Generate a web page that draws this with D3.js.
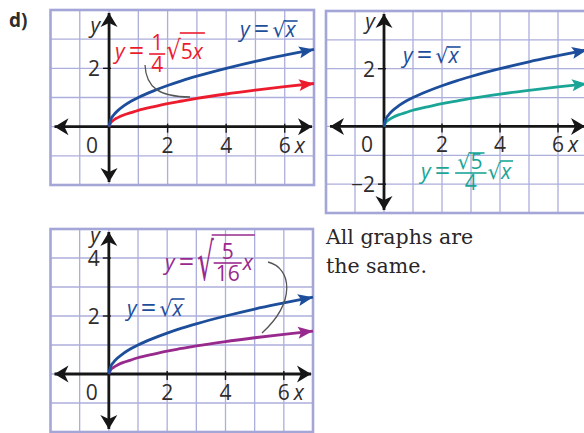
<!DOCTYPE html>
<html><head><meta charset="utf-8">
<script src="https://cdn.jsdelivr.net/npm/d3@7"></script>
<style>body{margin:0;background:#fff}svg{display:block}</style>
</head><body>
<script>
// ---- data ----
const xs      = [0, 0.05, 0.15, 0.3, 0.5, 0.75, 1, 1.5, 2, 2.5, 3, 4, 5, 6, 7];
const sqrtY   = [0, 0.22, 0.39, 0.55, 0.71, 0.87, 1, 1.22, 1.41, 1.58, 1.73, 2, 2.24, 2.45, 2.65];
const scaledY = [0, 0.12, 0.22, 0.31, 0.40, 0.48, 0.56, 0.68, 0.79, 0.88, 0.97, 1.12, 1.25, 1.37, 1.48];
const xTicks = [2, 4, 6];
const yTicks1 = [2], yTicks2 = [2, -2], yTicks3 = [2, 4];
const noteLines = ["All graphs are", "the same."];

const W = 584, H = 433;
const FONT = "'Open Sans', sans-serif";
const RFONT = "'DejaVu Sans', sans-serif";
const GRID = "#acaedb", INK = "#2f2d2c";
const C = {blue: "#1d4e9b", red: "#ec1c2e", teal: "#1aa597", purple: "#982a8d"};

const svg = d3.select("body").append("svg").attr("width", W).attr("height", H);
const defs = svg.append("defs");
function marker(id, color, len, half, notch) {
  defs.append("marker").attr("id", id).attr("markerUnits", "userSpaceOnUse")
    .attr("viewBox", `${-len-2} ${-half-2} ${len+4} ${2*half+4}`)
    .attr("markerWidth", len + 4).attr("markerHeight", 2*half + 4)
    .attr("refX", 0).attr("refY", 0).attr("orient", "auto-start-reverse")
    .append("path").attr("d", `M0,0 L${-len},${-half} L${-len+notch},0 L${-len},${half} Z`).attr("fill", color);
}
marker("ax", "#161616", 14, 8.5, 4);
Object.entries(C).forEach(([k, v]) => marker("a-" + k, v, 15, 6, 3));

svg.append("text").attr("x", 9).attr("y", 27).attr("font-family", FONT).attr("font-weight", 700)
  .attr("font-size", 19).attr("fill", INK).text("d)");

// ---- equation layout helper ----
function layout(g, x, y, items, o) {
  let cx = x;
  for (const it of items) {
    if (it.gap !== undefined) { cx += it.gap; continue; }
    if (it.t !== undefined) {
      const t = g.append("text").attr("x", cx).attr("y", y + (it.dy || 0)).attr("font-family", FONT)
        .attr("font-size", it.size || o.size).attr("fill", o.color)
        .attr("font-style", it.i ? "italic" : null).text(it.t);
      cx += t.node().getComputedTextLength();
    } else if (it.sqrt) {
      const rs = it.rs || o.size;
      const r = g.append("text").attr("font-family", RFONT).attr("font-size", rs).attr("fill", o.color)
        .attr("transform", `translate(${cx},${y + (it.rdy || 0)}) scale(1,${it.sy || 1})`).text("√");
      const rw = r.node().getComputedTextLength();
      const sx = cx + rw - (it.ov || 1);
      const st = cx + rw + (it.pad || 0);
      const end = layout(g, st, y, it.sqrt, o);
      g.append("line").attr("x1", sx).attr("x2", end + 2)
        .attr("y1", y - it.top).attr("y2", y - it.top).attr("stroke", o.color).attr("stroke-width", 1.6);
      cx = end + 2;
    } else if (it.frac) {
      const tmp = g.append("g");
      const wn = layout(tmp, 0, 0, it.frac, o);
      const wd = layout(tmp, 0, 0, it.den, o);
      tmp.remove();
      const w = Math.max(wn, wd) + 4;
      const by = y - it.bar;
      layout(g, cx + (w - wn) / 2, by - (it.nd || 3), it.frac, o);
      layout(g, cx + (w - wd) / 2, by + it.dd, it.den, o);
      g.append("line").attr("x1", cx).attr("x2", cx + w).attr("y1", by).attr("y2", by)
        .attr("stroke", o.color).attr("stroke-width", 1.6);
      cx += w + 1;
    }
  }
  return cx;
}
const EQ = [{t: "y", i: 1}, {gap: 4}, {t: "=", size: 27, dy: 1}, {gap: 3}];

// ---- panel ----
function panel(p) {
  const x = d3.scaleLinear().domain(p.xd).range([p.x0, p.x1]);
  const y = d3.scaleLinear().domain(p.yd).range([p.y1, p.y0]);
  const g = svg.append("g");
  g.append("g").selectAll("line").data(d3.range(p.xd[0] + 1, p.xd[1])).join("line")
    .attr("x1", d => x(d)).attr("x2", d => x(d)).attr("y1", p.y0).attr("y2", p.y1)
    .attr("stroke", GRID).attr("stroke-width", 1.3);
  g.append("g").selectAll("line").data(d3.range(p.yd[0] + 1, p.yd[1])).join("line")
    .attr("y1", d => y(d)).attr("y2", d => y(d)).attr("x1", p.x0).attr("x2", p.x1)
    .attr("stroke", GRID).attr("stroke-width", 1.3);
  g.append("rect").attr("x", p.x0).attr("y", p.y0).attr("width", p.x1 - p.x0).attr("height", p.y1 - p.y0)
    .attr("fill", "none").attr("stroke", "#a3a6d6").attr("stroke-width", 2.6);

  const ox = x(0), oy = y(0);
  g.append("line").attr("x1", p.x0 + 4).attr("x2", p.x1 - 2).attr("y1", oy).attr("y2", oy)
    .attr("stroke", "#161616").attr("stroke-width", 2.8)
    .attr("marker-start", "url(#ax)").attr("marker-end", "url(#ax)");
  g.append("line").attr("x1", ox).attr("x2", ox).attr("y1", p.y1 - 3).attr("y2", p.y0 + 3)
    .attr("stroke", "#161616").attr("stroke-width", 2.8)
    .attr("marker-start", "url(#ax)").attr("marker-end", "url(#ax)");
  g.append("g").selectAll("line").data(xTicks).join("line")
    .attr("x1", d => x(d)).attr("x2", d => x(d)).attr("y1", oy - 3).attr("y2", oy + 6)
    .attr("stroke", "#161616").attr("stroke-width", 1.4);
  g.append("g").selectAll("line").data(p.yt).join("line")
    .attr("y1", d => y(d)).attr("y2", d => y(d)).attr("x1", ox - 6).attr("x2", ox + 2)
    .attr("stroke", "#161616").attr("stroke-width", 1.4);
  const lab = (tx, ty, s, anchor, ital) => g.append("text").attr("x", tx).attr("y", ty)
    .attr("font-family", FONT).attr("font-size", 21).attr("fill", INK)
    .attr("text-anchor", anchor).attr("font-style", ital ? "italic" : null).text(s);
  xTicks.forEach(d => lab(x(d), oy + 26, d, "middle"));
  p.yt.forEach(d => lab(ox - 9, y(d) + 8, d < 0 ? "−" + (-d) : d, "end"));
  lab(ox - 11, oy + 26, "0", "end");
  lab(x(6) + 10, oy + 26, "x", "start", true);
  lab(ox - 9, p.yLab, "y", "end", true);

  const line = d3.line().x(d => x(d[0])).y(d => y(d[1])).curve(d3.curveMonotoneX);
  p.series.forEach(s => {
    g.append("path").datum(xs.map((v, i) => [v, s.vals[i]])).attr("d", line)
      .attr("fill", "none").attr("stroke", C[s.c]).attr("stroke-width", 2.8)
      .attr("marker-end", `url(#a-${s.c})`);
  });
  return {g, x, y};
}

// Panel 1
const P1 = panel({id: 1, x0: 50.5, x1: 314, y0: 10, y1: 185, xd: [-2, 7], yd: [-2, 4], yt: yTicks1, yLab: 33,
  series: [{c: "red", vals: scaledY}, {c: "blue", vals: sqrtY}]});
P1.g.append("path").attr("d", "M145,65 C146,88 160,97 190,97").attr("fill", "none").attr("stroke", "#555").attr("stroke-width", 1.3);
layout(P1.g, 240, 37, [...EQ, {sqrt: [{t: "x", i: 1}], top: 16}], {size: 21, color: C.blue});
layout(P1.g, 115, 59, [...EQ, {gap: 2}, {frac: [{t: "1"}], den: [{t: "4"}], bar: 5, dd: 18, nd: 4},
  {sqrt: [{t: "5"}, {t: "x", i: 1}], top: 26, rs: 23, sy: 1.15}], {size: 21, color: C.red});

// Panel 2
const P2 = panel({id: 2, x0: 326, x1: 587, y0: 11, y1: 213, xd: [-2, 7], yd: [-3, 4], yt: yTicks2, yLab: 29,
  series: [{c: "teal", vals: scaledY}, {c: "blue", vals: sqrtY}]});
layout(P2.g, 403, 63, [...EQ, {sqrt: [{t: "x", i: 1}], top: 16}], {size: 21, color: C.blue});
layout(P2.g, 421, 179, [...EQ, {gap: 2}, {frac: [{sqrt: [{t: "5"}], top: 16}], den: [{t: "4"}], bar: 6, dd: 17, nd: 4},
  {sqrt: [{t: "x", i: 1}], top: 18}], {size: 21, color: C.teal});

// Panel 3
const P3 = panel({id: 3, x0: 50.5, x1: 313, y0: 229, y1: 432, xd: [-2, 7], yd: [-2, 5], yt: yTicks3, yLab: 243,
  series: [{c: "purple", vals: scaledY}, {c: "blue", vals: sqrtY}]});
P3.g.append("path").attr("d", "M268,262 C292,268 296,302 262,333").attr("fill", "none").attr("stroke", "#555").attr("stroke-width", 1.3);
layout(P3.g, 127, 316, [...EQ, {sqrt: [{t: "x", i: 1}], top: 17}], {size: 21, color: C.blue});
layout(P3.g, 165, 270, [...EQ, {sqrt: [{frac: [{t: "5"}], den: [{t: "16"}], bar: 7, dd: 18, nd: 4}, {t: "x", i: 1}],
  top: 35, rs: 26, sy: 2.0, rdy: 10, ov: 2}], {size: 21, color: C.purple});

// note
svg.append("g").selectAll("text").data(noteLines).join("text")
  .attr("x", 326).attr("y", (d, i) => 244 + i * 28.5)
  .attr("font-family", "'DejaVu Serif', serif").attr("font-size", 20.5).attr("fill", "#2a2627").text(d => d);
</script>
</body></html>
